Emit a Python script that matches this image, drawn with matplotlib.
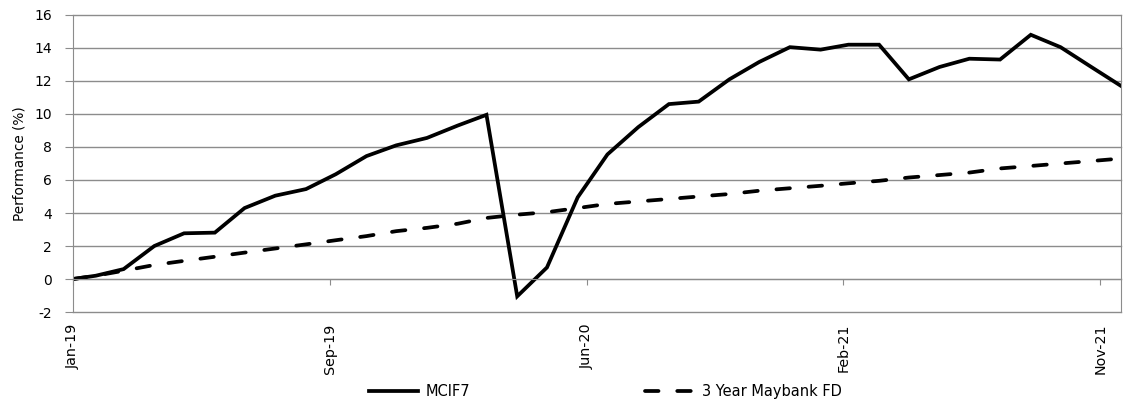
import datetime as dt
import matplotlib
matplotlib.use("Agg")
import matplotlib.pyplot as plt
import matplotlib.dates as mdates

plt.rcParams["axes.unicode_minus"] = False

# month-end points, fund started 8 Jan 2019
start = dt.date(2019, 1, 8)
month_ends = []
for y in (2019, 2020, 2021):
    for m in range(1, 13):
        nxt = dt.date(y + (m == 12), m % 12 + 1, 1)
        month_ends.append(nxt - dt.timedelta(days=1))
dates = [start] + month_ends[:35]

mcif7 = [0.0, 0.2, 0.6, 2.0, 2.77, 2.81, 4.3, 5.05, 5.45, 6.35, 7.45, 8.1,
         8.55, 9.3, 9.95, -1.05, 0.7, 4.95, 7.55, 9.2, 10.6, 10.75, 12.1,
         13.15, 14.05, 13.9, 14.2, 14.2, 12.1, 12.85, 13.35, 13.3, 14.8,
         14.05, 12.85, 11.7]
maybank_fd = [0.0, 0.2, 0.5, 0.85, 1.1, 1.35, 1.6, 1.85, 2.1, 2.35, 2.6,
              2.9, 3.1, 3.35, 3.7, 3.9, 4.05, 4.3, 4.55, 4.7, 4.85, 5.0,
              5.15, 5.35, 5.5, 5.65, 5.8, 5.95, 6.15, 6.3, 6.45, 6.7, 6.85,
              7.0, 7.15, 7.3]

tick_step = 259  # days between date-axis labels
tick_dates = [start + dt.timedelta(days=tick_step * k) for k in range(5)]
y_ticks = list(range(-2, 17, 2))

grey = "#8c8c8c"

fig = plt.figure(figsize=(11.27, 4.04), dpi=100)
ax = fig.add_axes([0.0648, 0.2277, 0.9299, 0.7352])

ax.plot(dates, mcif7, color="black", lw=2.7, label="MCIF7",
        solid_joinstyle="miter")
ax.plot(dates, maybank_fd, color="black", lw=2.7, dashes=(3.6, 5.0),
        dash_capstyle="round", label="3 Year Maybank FD")

ax.set_xlim(dates[0], dates[-1])
ax.set_ylim(-2, 16)
ax.set_yticks(y_ticks)
ax.grid(axis="y", color=grey, lw=1, clip_on=False)
ax.set_axisbelow(True)

ax.set_xticks(tick_dates)
ax.xaxis.set_major_formatter(mdates.DateFormatter("%b-%y"))
ax.spines["bottom"].set_position(("data", 0))
ax.tick_params(axis="x", direction="out", length=4, color=grey,
               pad=28, labelrotation=90, labelsize=10.3)
ax.tick_params(axis="y", direction="out", length=6, color=grey,
               pad=9, labelsize=10)
for s in ("bottom", "left", "right"):
    ax.spines[s].set_color(grey)
ax.spines["top"].set_visible(False)

ax.set_ylabel("Performance (%)", fontsize=9.8, labelpad=6)

fig.legend(loc="center", bbox_to_anchor=(0.537, 0.03), ncol=2, frameon=False,
           handlelength=3.4, handletextpad=0.5, columnspacing=12,
           fontsize=10.5)

fig.savefig("out.png", dpi=100)
